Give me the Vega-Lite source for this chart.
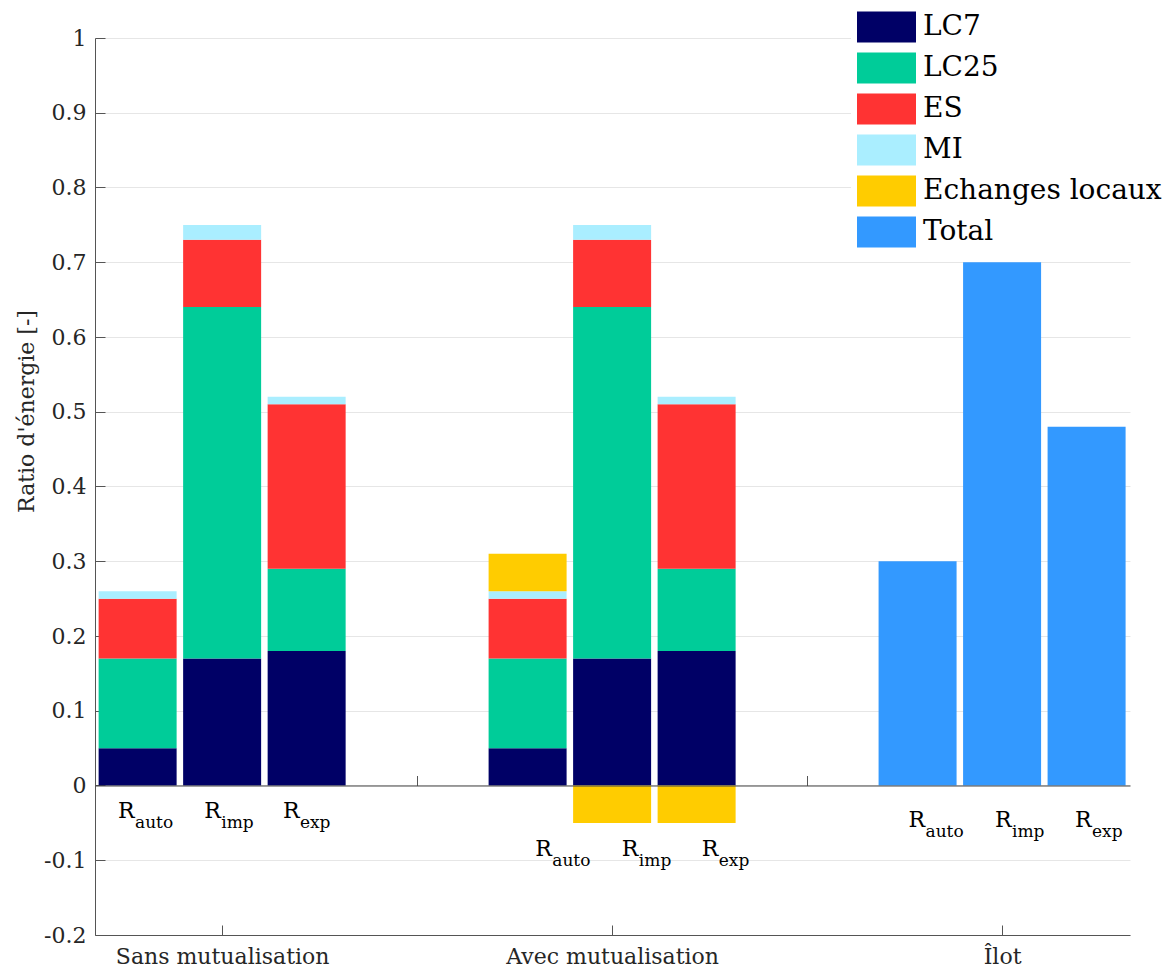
{
  "$schema": "https://vega.github.io/schema/vega-lite/v6.json",
  "width": 1035,
  "height": 897,
  "autosize": "none",
  "padding": {"left": 95, "top": 38, "right": 40, "bottom": 33},
  "background": "white",
  "config": {"view": {"stroke": null}, "font": "DejaVu Serif"},
  "datasets": {
    "bars": [
      {"x": 0.7833, "cat": "LC7", "k": 1, "v": 0.05},
      {"x": 0.7833, "cat": "LC25", "k": 2, "v": 0.12},
      {"x": 0.7833, "cat": "ES", "k": 3, "v": 0.08},
      {"x": 0.7833, "cat": "MI", "k": 4, "v": 0.01},
      {"x": 1.0, "cat": "LC7", "k": 1, "v": 0.17},
      {"x": 1.0, "cat": "LC25", "k": 2, "v": 0.47},
      {"x": 1.0, "cat": "ES", "k": 3, "v": 0.09},
      {"x": 1.0, "cat": "MI", "k": 4, "v": 0.02},
      {"x": 1.2167, "cat": "LC7", "k": 1, "v": 0.18},
      {"x": 1.2167, "cat": "LC25", "k": 2, "v": 0.11},
      {"x": 1.2167, "cat": "ES", "k": 3, "v": 0.22},
      {"x": 1.2167, "cat": "MI", "k": 4, "v": 0.01},
      {"x": 1.7833, "cat": "LC7", "k": 1, "v": 0.05},
      {"x": 1.7833, "cat": "LC25", "k": 2, "v": 0.12},
      {"x": 1.7833, "cat": "ES", "k": 3, "v": 0.08},
      {"x": 1.7833, "cat": "MI", "k": 4, "v": 0.01},
      {"x": 1.7833, "cat": "Echanges locaux", "k": 5, "v": 0.05},
      {"x": 2.0, "cat": "LC7", "k": 1, "v": 0.17},
      {"x": 2.0, "cat": "LC25", "k": 2, "v": 0.47},
      {"x": 2.0, "cat": "ES", "k": 3, "v": 0.09},
      {"x": 2.0, "cat": "MI", "k": 4, "v": 0.02},
      {"x": 2.0, "cat": "Echanges locaux", "k": 5, "v": -0.05},
      {"x": 2.2167, "cat": "LC7", "k": 1, "v": 0.18},
      {"x": 2.2167, "cat": "LC25", "k": 2, "v": 0.11},
      {"x": 2.2167, "cat": "ES", "k": 3, "v": 0.22},
      {"x": 2.2167, "cat": "MI", "k": 4, "v": 0.01},
      {"x": 2.2167, "cat": "Echanges locaux", "k": 5, "v": -0.05},
      {"x": 2.7833, "cat": "Total", "k": 6, "v": 0.30},
      {"x": 3.0, "cat": "Total", "k": 6, "v": 0.70},
      {"x": 3.2167, "cat": "Total", "k": 6, "v": 0.48}
    ],
    "labels": [
      {"x": 0.733, "y": -0.043, "main": "R", "sub": "auto"},
      {"x": 0.954, "y": -0.043, "main": "R", "sub": "imp"},
      {"x": 1.156, "y": -0.043, "main": "R", "sub": "exp"},
      {"x": 1.803, "y": -0.094, "main": "R", "sub": "auto"},
      {"x": 2.025, "y": -0.094, "main": "R", "sub": "imp"},
      {"x": 2.230, "y": -0.094, "main": "R", "sub": "exp"},
      {"x": 2.760, "y": -0.056, "main": "R", "sub": "auto"},
      {"x": 2.982, "y": -0.056, "main": "R", "sub": "imp"},
      {"x": 3.187, "y": -0.056, "main": "R", "sub": "exp"}
    ]
  },
  "layer": [
    {
      "data": {"name": "bars"},
      "mark": {"type": "bar", "size": 78},
      "encoding": {
        "x": {
          "field": "x", "type": "quantitative",
          "scale": {"domain": [0.674, 3.328], "nice": false, "zero": false, "padding": 0},
          "axis": {
            "orient": "bottom",
            "values": [1, 2, 3],
            "labelExpr": "datum.value == 1 ? 'Sans mutualisation' : datum.value == 2 ? 'Avec mutualisation' : 'Îlot'",
            "title": null,
            "grid": false,
            "tickSize": -10,
            "labelPadding": 21,
            "labelFontSize": 22,
            "labelFont": "DejaVu Serif",
            "labelColor": "#262626",
            "labelLimit": 400,
            "domainColor": "#555555",
            "tickColor": "#555555",
            "labelFlush": false,
            "labelOverlap": false
          }
        },
        "y": {
          "field": "v", "type": "quantitative", "stack": "zero",
          "scale": {"domain": [-0.2, 1], "nice": false, "zero": false, "padding": 0},
          "axis": {
            "values": [-0.2, -0.1, 0, 0.1, 0.2, 0.3, 0.4, 0.5, 0.6, 0.7, 0.8, 0.9, 1],
            "labelExpr": "datum.value < 0 ? '-' + format(-datum.value, '.1~f') : format(datum.value, '.1~f')",
            "tickSize": -10,
            "labelPadding": 19,
            "labelFontSize": 22,
            "labelFont": "DejaVu Serif",
            "labelColor": "#262626",
            "domainColor": "#555555",
            "tickColor": "#555555",
            "gridColor": "#e6e6e6",
            "labelFlush": false,
            "labelOverlap": false,
            "title": "Ratio d'énergie [-]",
            "titleFontSize": 22,
            "titleFont": "DejaVu Serif",
            "titleFontWeight": "normal",
            "titleColor": "#262626",
            "titleX": -62,
            "titleY": 373,
            "titleBaseline": "alphabetic",
            "titleAngle": -90
          }
        },
        "color": {
          "field": "cat", "type": "nominal",
          "scale": {
            "domain": ["LC7", "LC25", "ES", "MI", "Echanges locaux", "Total"],
            "range": ["#000066", "#00CC99", "#FF3333", "#AAEEFF", "#FFCC00", "#3399FF"]
          },
          "legend": {
            "orient": "none",
            "legendX": 756,
            "legendY": -42,
            "title": null,
            "symbolType": "M-1,-0.62H1.36V0.62H-1Z",
            "symbolSize": 2500,
            "symbolStrokeWidth": 0,
            "symbolOpacity": 1,
            "labelFontSize": 28,
            "labelFont": "DejaVu Serif",
            "labelColor": "#000000",
            "labelOffset": 16,
            "labelLimit": 400,
            "rowPadding": 0,
            "padding": 6,
            "fillColor": "white"
          }
        },
        "order": {"field": "k", "type": "quantitative"}
      }
    },
    {
      "data": {"name": "labels"},
      "mark": {"type": "text", "align": "left", "baseline": "alphabetic", "fontSize": 22, "font": "DejaVu Serif", "color": "#000000"},
      "encoding": {
        "x": {
          "field": "x", "type": "quantitative",
          "axis": {
            "orient": "bottom",
            "offset": -149.5,
            "values": [1.5, 2.5],
            "labels": false,
            "title": null,
            "grid": false,
            "tickSize": -10,
            "domainColor": "#444444",
            "tickColor": "#555555",
            "zindex": 1
          }
        },
        "y": {"field": "y", "type": "quantitative"},
        "text": {"field": "main"}
      }
    },
    {
      "data": {"name": "labels"},
      "mark": {"type": "text", "align": "left", "baseline": "alphabetic", "fontSize": 17, "font": "DejaVu Serif", "color": "#000000", "dx": 17, "dy": 10},
      "encoding": {
        "x": {"field": "x", "type": "quantitative", "axis": null},
        "y": {"field": "y", "type": "quantitative"},
        "text": {"field": "sub"}
      }
    }
  ],
  "resolve": {"axis": {"x": "independent"}}
}
